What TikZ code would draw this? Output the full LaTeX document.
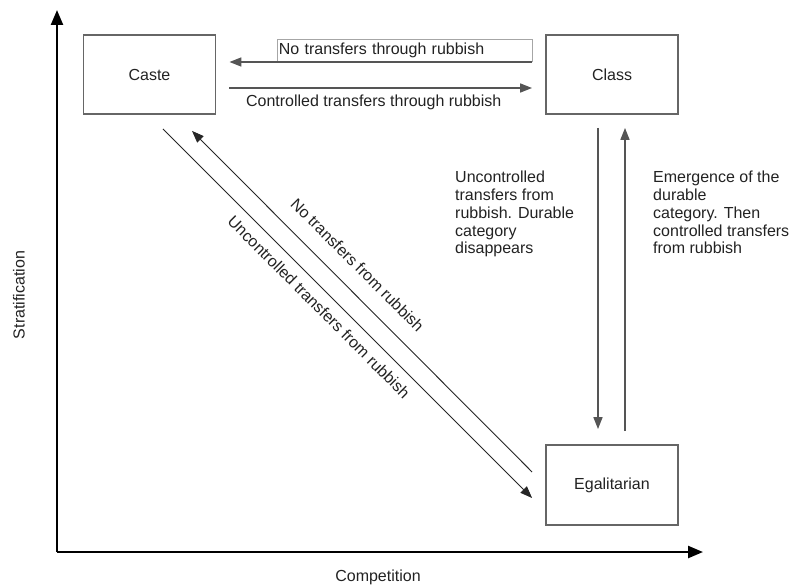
\documentclass[tikz,border=0pt]{standalone}
\usepackage{fontspec}
\setmainfont{Liberation Sans}
\usetikzlibrary{arrows.meta}
\definecolor{boxgray}{HTML}{666666}
\definecolor{arrgray}{HTML}{555555}
\definecolor{txt}{HTML}{222222}
\begin{document}
\begin{tikzpicture}[x=1pt,y=-1pt,
  every node/.style={font=\fontsize{16}{17.8}\selectfont, text=txt},
  statebox/.style={draw=boxgray, line width=1.8pt, minimum width=132pt, minimum height=79pt, inner sep=0pt},
  axis/.style={line width=2.4pt, black, -{Triangle[length=15pt,width=12pt]}},
  flow/.style={line width=1.6pt, draw=arrgray, -{Triangle[length=12pt,width=9pt]}},
  diag/.style={line width=0.9pt, draw=black!85, -{Triangle[length=12pt,width=9pt]}},
  lblbox/.style={draw=black!35, line width=0.6pt, fill=white, minimum height=22pt, text width=251pt, inner xsep=2pt, inner ysep=0pt, align=left}
]
\useasboundingbox (0,0) rectangle (789,585);

% axes
\coordinate (origin) at (57,552);
\coordinate (ytip) at (57,10);
\coordinate (xtip) at (703,552);
\draw[axis] (origin) -- (ytip);
\draw[axis] (origin) -- (xtip);
\node[rotate=90] (strat) at (19,295) {Stratification};
\node (comp) at (378,577) {Competition};

% boxes
\node[statebox] (caste) at (149.5,74.5) {Caste};
\node[statebox] (class) at (612,74.5) {Class};
\node[statebox, minimum height=80pt] (egal) at (612,485) {Egalitarian};

% top label box
\node[lblbox, anchor=south east] (nolbl) at ([shift={(-13,-12.5)}]class.west) {No transfers through rubbish};

% horizontal arrows
\draw[flow] ([shift={(-13,-12.5)}]class.west) -- ([shift={(13,-12.5)}]caste.east);
\draw[flow] ([shift={(13,13.5)}]caste.east) -- ([shift={(-13,13.5)}]class.west)
  node[midway, below=3pt, xshift=-7pt] (ctlbl) {Controlled transfers through rubbish};

% vertical arrows
\draw[flow] ([shift={(-14,13)}]class.south) -- ([shift={(-14,-15)}]egal.north);
\draw[flow] ([shift={(13,-13)}]egal.north) -- ([shift={(13,13)}]class.south);

% diagonal arrows
\draw[diag] ([shift={(-13,-13)}]egal.west) -- ([shift={(42.5,16)}]caste.south);
\draw[diag] ([shift={(13.5,14)}]caste.south) -- ([shift={(-13,13)}]egal.west);

\node[rotate=-45] (nofrom) at (357.5,265) {No transfers from rubbish};
\node[rotate=-45] (uncfrom) at (319,307) {Uncontrolled transfers from rubbish};

% side texts
\node[anchor=north west, align=left, inner sep=0pt] (unclbl) at (455,171)
  {Uncontrolled\\transfers from\\rubbish. Durable\\category\\disappears};
\node[anchor=north west, align=left, inner sep=0pt] (emlbl) at (653,171)
  {Emergence of the\\durable\\category. Then\\controlled transfers\\from rubbish};
\end{tikzpicture}
\end{document}
